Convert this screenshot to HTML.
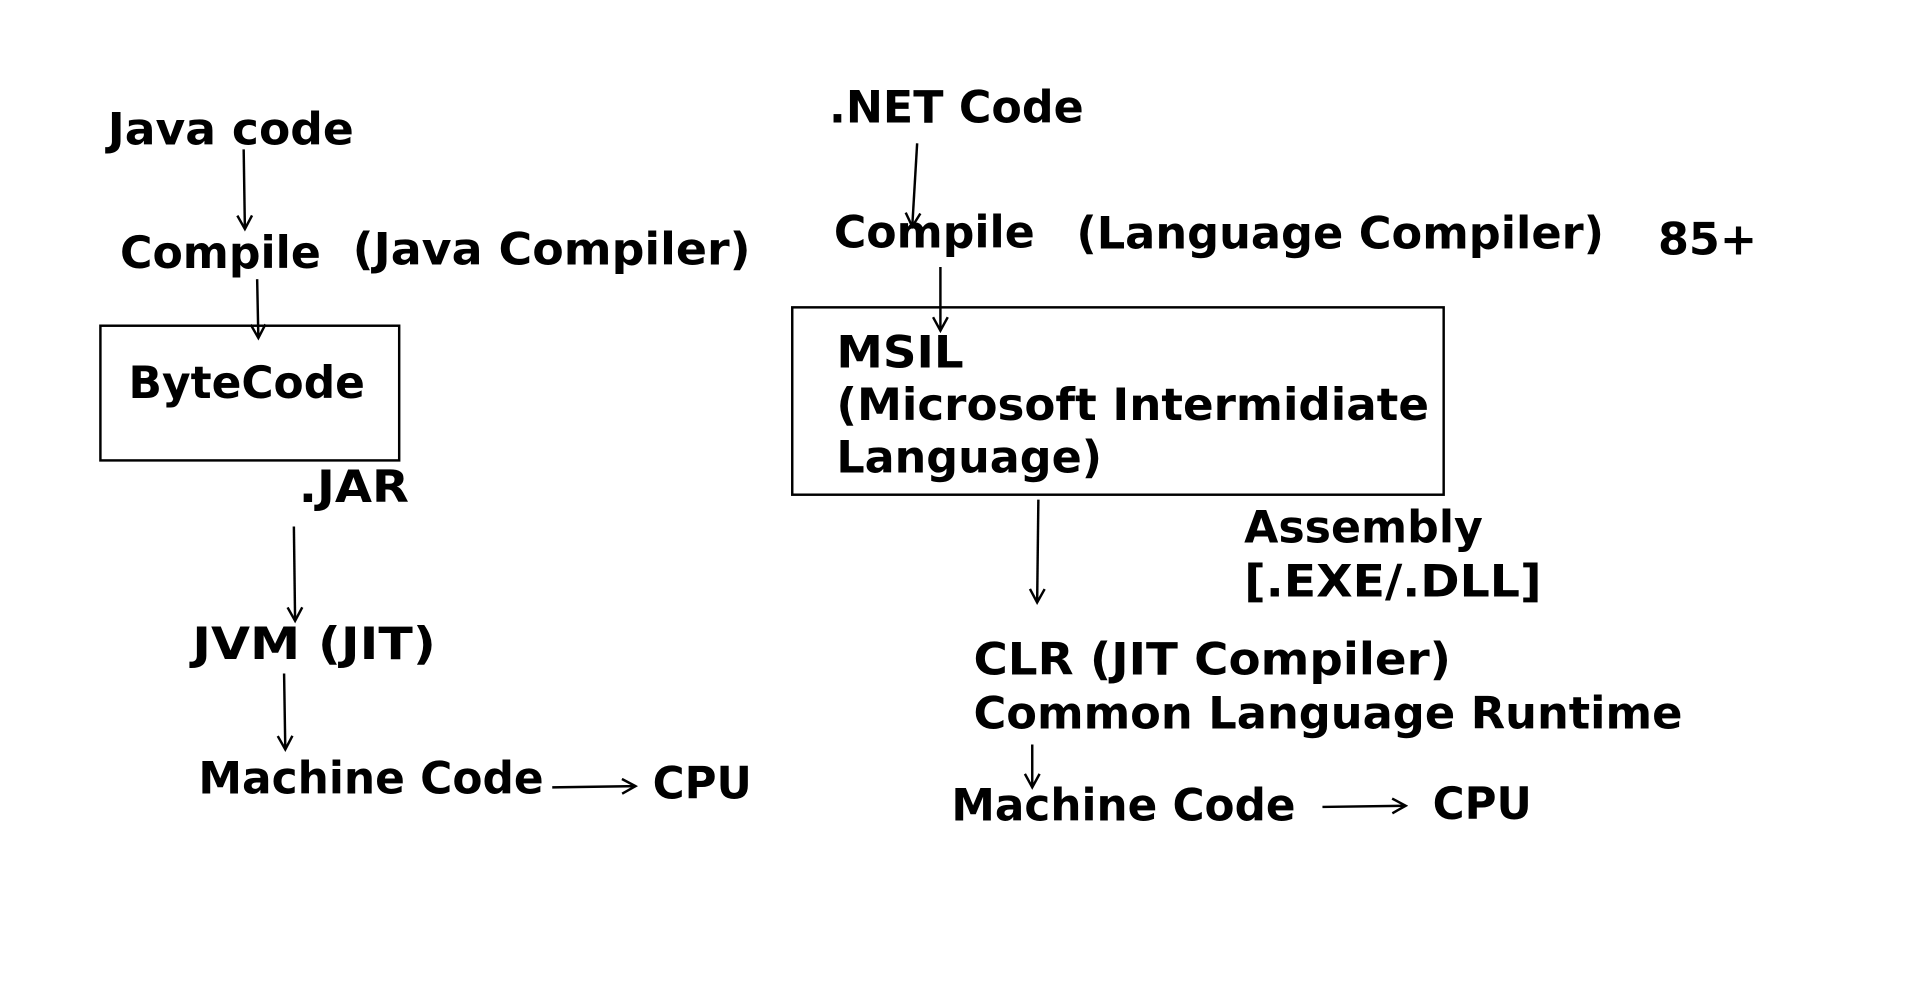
<!DOCTYPE html>
<html><head><meta charset="utf-8"><style>html,body{margin:0;padding:0;background:#fff;}svg{display:block}</style></head>
<body>
<svg width="1920" height="991" viewBox="0 0 1568 809.3" preserveAspectRatio="none" xmlns="http://www.w3.org/2000/svg">
<defs>
<marker id="a" markerWidth="14" markerHeight="14" refX="12" refY="7" orient="auto" markerUnits="userSpaceOnUse">
<path d="M1,1 L12,7 L1,13" fill="none" stroke="#000" stroke-width="2"/>
</marker>
</defs>
<rect width="1568" height="810" fill="#fff"/>
<g font-family="DejaVu Sans, Liberation Sans, sans-serif" font-weight="bold" font-size="36" fill="#000" lengthAdjust="spacingAndGlyphs">
<text x="88" y="118" textLength="201" lengthAdjust="spacingAndGlyphs">Java code</text>
<text x="98" y="219" textLength="164" lengthAdjust="spacingAndGlyphs">Compile</text>
<text x="288" y="216" textLength="325" lengthAdjust="spacingAndGlyphs">(Java Compiler)</text>
<text x="105" y="325" textLength="193" lengthAdjust="spacingAndGlyphs">ByteCode</text>
<text x="244" y="410" textLength="90" lengthAdjust="spacingAndGlyphs">.JAR</text>
<text x="157" y="538" textLength="199" lengthAdjust="spacingAndGlyphs">JVM (JIT)</text>
<text x="162" y="648" textLength="282" lengthAdjust="spacingAndGlyphs">Machine Code</text>
<text x="533" y="652" textLength="81" lengthAdjust="spacingAndGlyphs">CPU</text>
<text x="677" y="100" textLength="208" lengthAdjust="spacingAndGlyphs">.NET Code</text>
<text x="681" y="202" textLength="164" lengthAdjust="spacingAndGlyphs">Compile</text>
<text x="879" y="203" textLength="431" lengthAdjust="spacingAndGlyphs">(Language Compiler)</text>
<text x="1354" y="208" textLength="81" lengthAdjust="spacingAndGlyphs">85+</text>
<text x="683" y="300" textLength="104" lengthAdjust="spacingAndGlyphs">MSIL</text>
<text x="683" y="343" textLength="484" lengthAdjust="spacingAndGlyphs">(Microsoft Intermidiate</text>
<text x="683" y="386" textLength="217" lengthAdjust="spacingAndGlyphs">Language)</text>
<text x="1016" y="443" textLength="195" lengthAdjust="spacingAndGlyphs">Assembly</text>
<text x="1016" y="487" textLength="243" lengthAdjust="spacingAndGlyphs">[.EXE/.DLL]</text>
<text x="795" y="551" textLength="390" lengthAdjust="spacingAndGlyphs">CLR (JIT Compiler)</text>
<text x="795" y="595" textLength="579" lengthAdjust="spacingAndGlyphs">Common Language Runtime</text>
<text x="777" y="670" textLength="281" lengthAdjust="spacingAndGlyphs">Machine Code</text>
<text x="1170" y="669" textLength="81" lengthAdjust="spacingAndGlyphs">CPU</text>
</g>
<g fill="none" stroke="#000" stroke-width="2">
<rect x="82" y="266" width="244" height="110"/>
<rect x="647" y="251" width="532" height="153"/>
<line x1="199" y1="122" x2="200" y2="187" marker-end="url(#a)"/>
<line x1="210" y1="228" x2="211" y2="276" marker-end="url(#a)"/>
<line x1="240" y1="430" x2="241" y2="507" marker-end="url(#a)"/>
<line x1="232" y1="550" x2="233" y2="612" marker-end="url(#a)"/>
<line x1="451" y1="643" x2="519" y2="642" marker-end="url(#a)"/>
<line x1="749" y1="117" x2="745" y2="185" marker-end="url(#a)"/>
<line x1="768" y1="218" x2="768" y2="270" marker-end="url(#a)"/>
<line x1="848" y1="408" x2="847" y2="492" marker-end="url(#a)"/>
<line x1="843" y1="608" x2="843" y2="643" marker-end="url(#a)"/>
<line x1="1080" y1="659" x2="1148" y2="658" marker-end="url(#a)"/>
</g>
</svg>
</body></html>
